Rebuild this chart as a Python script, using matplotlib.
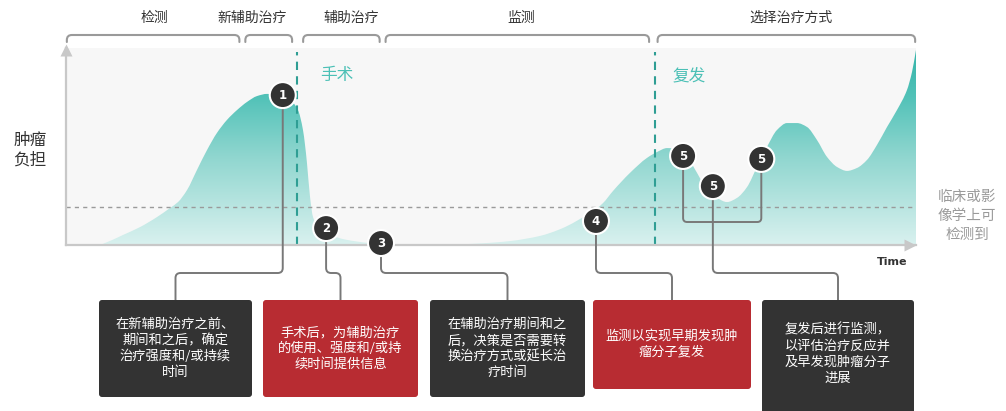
import numpy as np
import matplotlib
matplotlib.use("Agg")
import matplotlib.pyplot as plt
from matplotlib.path import Path
from matplotlib.patches import PathPatch, Circle, FancyBboxPatch
from matplotlib.colors import LinearSegmentedColormap

plt.rcParams['font.family'] = ['Noto Sans CJK SC', 'DejaVu Sans']

W, H = 1006, 411

# Tumour burden over time (arbitrary units, 0-100 on both axes)
time = [4.0, 5.41, 6.71, 8.71, 10.71, 12.24, 13.18, 14.24, 15.41, 16.59,
        17.76, 18.94, 20.12, 21.29, 22.47, 23.65, 24.82, 26.35, 27.29, 27.88,
        28.12, 28.35, 28.71, 29.06, 29.53, 29.88, 31.06, 32.82, 35.76, 39.29,
        45.18, 48.71, 52.24, 55.76, 56.94, 58.71, 60.47, 61.88, 63.18, 64.35,
        66.35, 68.35, 69.53, 70.71, 71.88, 73.06, 74.24, 75.41, 76.59, 77.76,
        78.94, 80.12, 81.29, 82.47, 83.65, 84.82, 86.0, 87.18, 88.35, 89.53,
        90.71, 91.88, 93.06, 94.24, 95.41, 96.59, 97.76, 98.94, 99.53, 100.0]
burden = [0.0, 2.5, 5.1, 9.1, 14.2, 18.8, 21.8, 27.9, 38.1, 48.2,
          56.9, 63.5, 68.5, 72.6, 75.6, 76.7, 76.1, 73.6, 68.5, 58.4,
          50.8, 41.6, 24.4, 14.2, 10.2, 7.6, 5.1, 2.8, 1.0, 0.25,
          0.25, 0.8, 2.0, 4.6, 6.1, 9.1, 13.2, 16.8, 21.3, 27.4,
          36.6, 44.2, 47.2, 49.2, 48.7, 44.7, 36.6, 27.9, 23.9, 21.8,
          23.9, 29.4, 39.6, 49.8, 58.4, 61.9, 61.9, 59.9, 53.3, 44.7,
          39.6, 37.6, 39.1, 43.2, 50.8, 59.9, 68.5, 78.7, 87.8, 99.0]

detection_threshold = 19.3
surgery_t = 27.2
relapse_t = 69.3

# Phases along the timeline
phase_names = ["检测", "新辅助治疗", "辅助治疗", "监测", "选择治疗方式"]
phase_start = [0.1, 21.1, 27.9, 37.6, 69.6]
phase_end = [20.4, 26.6, 36.9, 68.6, 99.9]
phase_label_t = [10.35, 21.9, 33.6, 53.5, 85.3]

# Numbered decision points on the curve
point_labels = ["1", "2", "3", "4", "5", "5", "5"]
point_t = [25.5, 30.6, 37.06, 62.35, 72.6, 76.1, 81.8]
point_b = [76.1, 8.6, 1.0, 12.2, 45.2, 29.9, 43.7]

# Explanatory notes
notes = [
    ["在新辅助治疗之前、", "期间和之后，确定", "治疗强度和/或持续", "时间"],
    ["手术后，为辅助治疗", "的使用、强度和/或持", "续时间提供信息"],
    ["在辅助治疗期间和之", "后，决策是否需要转", "换治疗方式或延长治", "疗时间"],
    ["监测以实现早期发现肿", "瘤分子复发"],
    ["复发后进行监测，", "以评估治疗反应并", "及早发现肿瘤分子", "进展"],
]

DARK = "#333333"
RED = "#b82c32"
TEAL_TXT = "#4cc0b6"
TEAL_LINE = "#2f9e94"
GRID_GREY = "#c8c8c8"
CONN = "#787878"


def smooth_area_path(x, y):
    """Closed area path whose top edge is a monotone cubic (PCHIP) through the points."""
    x = np.asarray(x, float)
    y = np.asarray(y, float)
    h = np.diff(x)
    d = np.diff(y) / h
    m = np.zeros_like(y)
    m[0], m[-1] = d[0], d[-1]
    for k in range(1, len(x) - 1):
        if d[k - 1] * d[k] <= 0:
            m[k] = 0.0
        else:
            w1 = 2 * h[k] + h[k - 1]
            w2 = h[k] + 2 * h[k - 1]
            m[k] = (w1 + w2) / (w1 / d[k - 1] + w2 / d[k])
    verts = [(x[0], 0.0), (x[0], y[0])]
    codes = [Path.MOVETO, Path.LINETO]
    for k in range(len(x) - 1):
        verts += [(x[k] + h[k] / 3, y[k] + m[k] * h[k] / 3),
                  (x[k + 1] - h[k] / 3, y[k + 1] - m[k + 1] * h[k] / 3),
                  (x[k + 1], y[k + 1])]
        codes += [Path.CURVE4] * 3
    verts += [(x[-1], 0.0), (x[0], 0.0)]
    codes += [Path.LINETO, Path.CLOSEPOLY]
    return Path(verts, codes)


fig = plt.figure(figsize=(W / 100, H / 100), dpi=100)
fig.patch.set_facecolor("white")

# ---- main chart ----
ax = fig.add_axes([66 / W, (H - 245) / H, 850 / W, 197 / H])
ax.set_facecolor("#f7f7f7")

cmap = LinearSegmentedColormap.from_list(
    "burden", [(0.0, "#d9f1ef"), (0.45, "#8fd6cf"), (0.75, "#52c2b8"), (1.0, "#33b3a8")])
area = PathPatch(smooth_area_path(time, burden), facecolor="none", edgecolor="none",
                 transform=ax.transData)
ax.add_patch(area)
grad = np.linspace(0, 1, 256).reshape(-1, 1)
im = ax.imshow(grad, extent=(0, 100, 0, 100), origin="lower", cmap=cmap,
               aspect="auto", zorder=1, interpolation="bilinear")
im.set_clip_path(area)

ax.axhline(detection_threshold, color="#9a9a9a", lw=1.0, ls=(0, (3, 3)), zorder=3)
for t in (surgery_t, relapse_t):
    ax.plot([t, t], [0, 98], color=TEAL_LINE, lw=1.5, ls=(0, (4, 3)), zorder=3)

ax.set_xlim(0, 100)
ax.set_ylim(0, 100)
ax.set_xticks([])
ax.set_yticks([])
for s in ("top", "right"):
    ax.spines[s].set_visible(False)
for s in ("left", "bottom"):
    ax.spines[s].set_color(GRID_GREY)
    ax.spines[s].set_linewidth(1.6)
    ax.spines[s].set_zorder(4)
ax.plot([0], [99], marker="^", ms=8, color=GRID_GREY, clip_on=False, zorder=5, mec="none")
ax.plot([99.3], [0], marker=">", ms=8, color=GRID_GREY, clip_on=False, zorder=5, mec="none")

ax.text(surgery_t + 2.7, 86, "手术", color=TEAL_TXT, fontsize=12, va="center", ha="left")
ax.text(relapse_t + 2.0, 86, "复发", color=TEAL_TXT, fontsize=12, va="center", ha="left")

# ---- overlay in pixel coordinates for annotations ----
ov = fig.add_axes([0, 0, 1, 1])
ov.set_xlim(0, W)
ov.set_ylim(H, 0)
ov.axis("off")
ov.patch.set_alpha(0)


def to_px(t, b):
    x, y = ax.transData.transform((t, b))
    return x, H - y


def rounded(points, r=5):
    verts = [points[0]]
    codes = [Path.MOVETO]
    for i in range(1, len(points) - 1):
        p0, p1, p2 = (np.array(points[j], float) for j in (i - 1, i, i + 1))
        d1 = (p1 - p0) / np.linalg.norm(p1 - p0)
        d2 = (p2 - p1) / np.linalg.norm(p2 - p1)
        verts += [tuple(p1 - d1 * r), tuple(p1), tuple(p1 + d2 * r)]
        codes += [Path.LINETO, Path.CURVE3, Path.CURVE3]
    verts.append(points[-1])
    codes.append(Path.LINETO)
    return Path(verts, codes)


# phase brackets and labels
for name, t0, t1, tl in zip(phase_names, phase_start, phase_end, phase_label_t):
    x0 = to_px(t0, 0)[0]
    x1 = to_px(t1, 0)[0]
    ov.add_patch(PathPatch(rounded([(x0, 42), (x0, 35), (x1, 35), (x1, 42)], 5),
                           fill=False, ec="#9a9a9a", lw=1.5, capstyle="round"))
    ov.text(to_px(tl, 0)[0], 18, name, ha="center", va="center", fontsize=10, color="#333333")

# axis labels
ov.text(30, 140, "肿瘤", ha="center", va="center", fontsize=12, color="#333333")
ov.text(30, 160, "负担", ha="center", va="center", fontsize=12, color="#333333")
for i, line in enumerate(["临床或影", "像学上可", "检测到"]):
    ov.text(967, 197 + 19 * i, line, ha="center", va="center", fontsize=10.5, color="#9a9a9a")
ov.text(892, 262, "Time", ha="center", va="center", fontsize=8, fontweight="bold",
        color="#333333", family="DejaVu Sans")

# note boxes
box_x0 = [99, 263, 430, 593, 762]
box_x1 = [252, 418, 585, 751, 914]
box_y1 = [397, 397, 397, 389, 420]
box_col = [DARK, RED, DARK, RED, DARK]
box_top = 300
centres = []
for x0, x1, y1, col, lines in zip(box_x0, box_x1, box_y1, box_col, notes):
    ov.add_patch(FancyBboxPatch((x0, box_top), x1 - x0, y1 - box_top,
                                boxstyle="round,pad=0,rounding_size=3",
                                fc=col, ec="none", zorder=2))
    cx = (x0 + x1) / 2
    centres.append(cx)
    cy = (box_top + min(y1, 408)) / 2
    n = len(lines)
    for i, line in enumerate(lines):
        ov.text(cx, cy + (i - (n - 1) / 2) * 16, line, ha="center", va="center",
                fontsize=9.5, color="white", zorder=3)

# connectors
pts = [to_px(t, b) for t, b in zip(point_t, point_b)]
route_y = 273
targets = [(0, 0), (1, 1), (2, 2), (3, 3), (5, 4)]
for pi, bi in targets:
    px, py = pts[pi]
    bx = centres[bi]
    ov.add_patch(PathPatch(rounded([(px, py), (px, route_y), (bx, route_y), (bx, box_top)], 5),
                           fill=False, ec=CONN, lw=1.4, zorder=4))
(ax5, ay5), (cx5, cy5) = pts[4], pts[6]
ov.add_patch(PathPatch(rounded([(ax5, ay5), (ax5, 222), (cx5, 222), (cx5, cy5)], 4),
                       fill=False, ec=CONN, lw=1.4, zorder=4))

# numbered markers
for lab, (px, py) in zip(point_labels, pts):
    ov.add_patch(Circle((px, py), 13, fc=DARK, ec="white", lw=1.5, zorder=6))
    ov.text(px, py + 0.5, lab, ha="center", va="center", fontsize=8.5, fontweight="bold",
            color="white", family="DejaVu Sans", zorder=7)

fig.savefig("out.png", dpi=100, facecolor="white")
